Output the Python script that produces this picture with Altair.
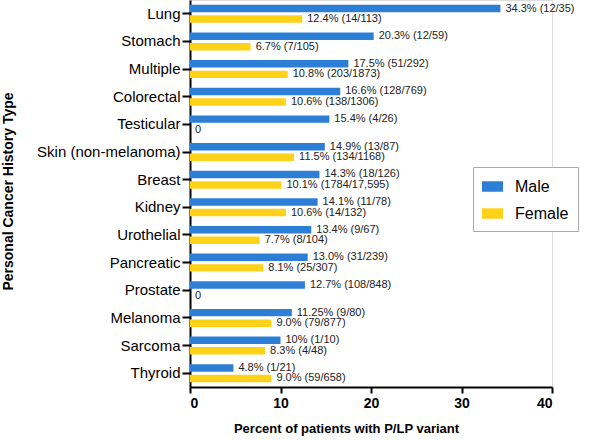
import altair as alt
import pandas as pd

categories = ["Lung", "Stomach", "Multiple", "Colorectal", "Testicular",
              "Skin (non-melanoma)", "Breast", "Kidney", "Urothelial",
              "Pancreatic", "Prostate", "Melanoma", "Sarcoma", "Thyroid"]
male_values = [34.3, 20.3, 17.5, 16.6, 15.4, 14.9, 14.3, 14.1, 13.4, 13.0, 12.7, 11.25, 10.0, 4.8]
female_values = [12.4, 6.7, 10.8, 10.6, 0, 11.5, 10.1, 10.6, 7.7, 8.1, 0, 9.0, 8.3, 9.0]
male_labels = ["34.3% (12/35)", "20.3% (12/59)", "17.5% (51/292)", "16.6% (128/769)",
               "15.4% (4/26)", "14.9% (13/87)", "14.3% (18/126)", "14.1% (11/78)",
               "13.4% (9/67)", "13.0% (31/239)", "12.7% (108/848)", "11.25% (9/80)",
               "10% (1/10)", "4.8% (1/21)"]
female_labels = ["12.4% (14/113)", "6.7% (7/105)", "10.8% (203/1873)", "10.6% (138/1306)",
                 "0", "11.5% (134/1168)", "10.1% (1784/17,595)", "10.6% (14/132)",
                 "7.7% (8/104)", "8.1% (25/307)", "0", "9.0% (79/877)",
                 "8.3% (4/48)", "9.0% (59/658)"]
sexes = ["Male", "Female"]
colors = ["#2d7fd6", "#ffd21a"]

rows = []
for i, c in enumerate(categories):
    rows.append({"cat": c, "sex": "Male", "value": male_values[i], "label": male_labels[i]})
    rows.append({"cat": c, "sex": "Female", "value": female_values[i], "label": female_labels[i]})
df = pd.DataFrame(rows)

FONT = "Liberation Sans"

y_enc = alt.Y("cat:N", sort=categories,
              scale=alt.Scale(paddingInner=0.35, paddingOuter=0.175),
              axis=alt.Axis(title="Personal Cancer History Type", labelFontSize=15,
                            labelColor="black", labelFont=FONT, tickSize=8, tickWidth=2,
                            tickColor="black", domainColor="black", domainWidth=2,
                            labelPadding=2, titleFont=FONT, titleFontSize=14,
                            titleFontWeight="bold", titleColor="black",
                            titleX=-175, titleY=191, titleAngle=-90,
                            titleBaseline="bottom"))
yoff_enc = alt.YOffset("sex:N", sort=sexes,
                       scale=alt.Scale(domain=sexes, paddingInner=0.29, paddingOuter=0))

x_enc = alt.X("value:Q", scale=alt.Scale(domain=[0, 40], nice=False),
              axis=alt.Axis(title="Percent of patients with P/LP variant", values=[0, 10, 20, 30, 40],
                            grid=False, labelFontSize=14, labelFontWeight="bold",
                            labelColor="black", labelFont=FONT, tickSize=6, tickWidth=2,
                            tickColor="black", domainColor="black", domainWidth=2,
                            labelPadding=3, titleFont=FONT, titleFontSize=13,
                            titleFontWeight="bold", titleColor="black",
                            titleX=156, titleY=35, titleAnchor="middle"))

color_enc = alt.Color("sex:N", sort=sexes,
                      scale=alt.Scale(domain=sexes, range=colors),
                      legend=alt.Legend(title=None, orient="none", legendX=283, legendY=167,
                                        symbolType="M-1,-0.5H1V0.5H-1Z", symbolSize=441,
                                        symbolStrokeWidth=0, labelFontSize=16, labelFont=FONT,
                                        labelColor="black", labelOffset=12, rowPadding=8,
                                        padding=9, strokeColor="#aaaaaa", fillColor="white"))

bars = alt.Chart(df).mark_bar(opacity=1).encode(
    x=x_enc, y=y_enc, yOffset=yoff_enc, color=color_enc
)

texts = alt.Chart(df).mark_text(align="left", baseline="middle", dx=5, fontSize=11,
                                font=FONT, color="#222222").encode(
    x=alt.X("value:Q"), y=alt.Y("cat:N", sort=categories), yOffset=alt.YOffset("sex:N", sort=sexes),
    text="label:N"
)

chart = alt.layer(bars, texts).properties(
    width=362, height=387,
    autosize=alt.AutoSizeParams(type="none"),
    padding={"left": 190, "top": 0, "right": 38, "bottom": 53}
).configure_view(stroke=None).configure(background="white")

chart.save("out.html", embed_options={"renderer": "svg", "actions": False})
